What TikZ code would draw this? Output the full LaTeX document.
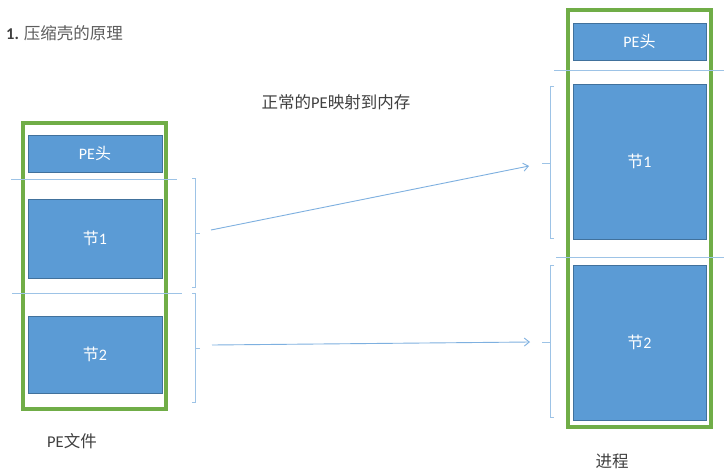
\documentclass[tikz,border=0pt]{standalone}
\usepackage{fontspec}
\setmainfont{Carlito}
\newfontfamily\cjk{Noto Sans CJK SC}
\usetikzlibrary{arrows.meta}
\definecolor{boxblue}{HTML}{5B9BD5}
\definecolor{boxedge}{HTML}{41719C}
\definecolor{frame}{HTML}{70AD47}
\definecolor{thin}{HTML}{9DC3E6}
\definecolor{arr}{HTML}{7EB0E0}
\definecolor{txt}{HTML}{404040}
\begin{document}
\begin{tikzpicture}[x=1pt,y=-1pt,
  secbox/.style={draw=boxedge,line width=0.8pt,fill=boxblue,text=white,font=\fontsize{16}{18}\selectfont},
  framebox/.style={draw=frame,line width=4pt},
  sepline/.style={draw=thin,line width=0.9pt},
  bracket/.style={draw=thin,line width=0.9pt},
  maparrow/.style={draw=arr,line width=0.9pt,-{Straight Barb[length=5pt,width=8pt]}},
  lbl/.style={text=txt,font=\fontsize{16.5}{18}\selectfont,inner sep=0pt}
]
\useasboundingbox (0,0) rectangle (724,472);
\fill[white] (0,0) rectangle (724,472);

% title and labels
\node[lbl,anchor=west] (title) at (6,33) {\textbf{1.} {\cjk\color{txt!85}压缩壳的原理}};
\node[lbl] (maptext) at (336,102) {{\cjk 正常的}PE{\cjk 映射到内存}};
\node[lbl] (pefile) at (72,441) {PE{\cjk 文件}};
\node[lbl] (proc) at (612,461) {\cjk 进程};

% left: PE file
\node[framebox,minimum width=143pt,minimum height=286pt,inner sep=0pt] (lframe) at (94.5,266) {};
\node[secbox,minimum width=134pt,minimum height=37pt,inner sep=0pt] (lhead) at (95,153.5) {PE{\cjk 头}};
\node[secbox,minimum width=134pt,minimum height=79pt,inner sep=0pt] (lsec1) at (95,238.5) {{\cjk 节}1};
\node[secbox,minimum width=134pt,minimum height=77pt,inner sep=0pt] (lsec2) at (95,354.5) {{\cjk 节}2};
\coordinate (ls1a) at (11,179); \coordinate (ls1b) at (177,179);
\coordinate (ls2a) at (12,293); \coordinate (ls2b) at (182,293);
\draw[sepline] (ls1a) -- (ls1b);
\draw[sepline] (ls2a) -- (ls2b);

% right: process
\node[framebox,minimum width=143pt,minimum height=417pt,inner sep=0pt] (rframe) at (639.5,218.5) {};
\node[secbox,minimum width=133pt,minimum height=37pt,inner sep=0pt] (rhead) at (639.5,41.5) {PE{\cjk 头}};
\node[secbox,minimum width=133pt,minimum height=155pt,inner sep=0pt] (rsec1) at (639.5,161.5) {{\cjk 节}1};
\node[secbox,minimum width=133pt,minimum height=155pt,inner sep=0pt] (rsec2) at (639.5,342.5) {{\cjk 节}2};
\coordinate (rs1a) at (554,70); \coordinate (rs1b) at (724,70);
\coordinate (rs2a) at (556,257); \coordinate (rs2b) at (724,257);
\draw[sepline] (rs1a) -- (rs1b);
\draw[sepline] (rs2a) -- (rs2b);

% brackets
\draw[bracket] (192,178) -- (195,178) -- (195,287) -- (192,287);
\draw[bracket] (195,233) -- (200,233);
\draw[bracket] (192,293) -- (195,293) -- (195,402) -- (192,402);
\draw[bracket] (195,348) -- (200,348);
\draw[bracket] (554,86) -- (550,86) -- (550,238) -- (554,238);
\draw[bracket] (550,163) -- (542,163);
\draw[bracket] (554,265) -- (550,265) -- (550,417) -- (554,417);
\draw[bracket] (550,342) -- (542,342);

% arrows
\coordinate (a1s) at (211,230); \coordinate (a1e) at (529,166);
\coordinate (a2s) at (212,345); \coordinate (a2e) at (530,342);
\draw[maparrow] (a1s) -- (a1e);
\draw[maparrow] (a2s) -- (a2e);
\end{tikzpicture}
\end{document}
